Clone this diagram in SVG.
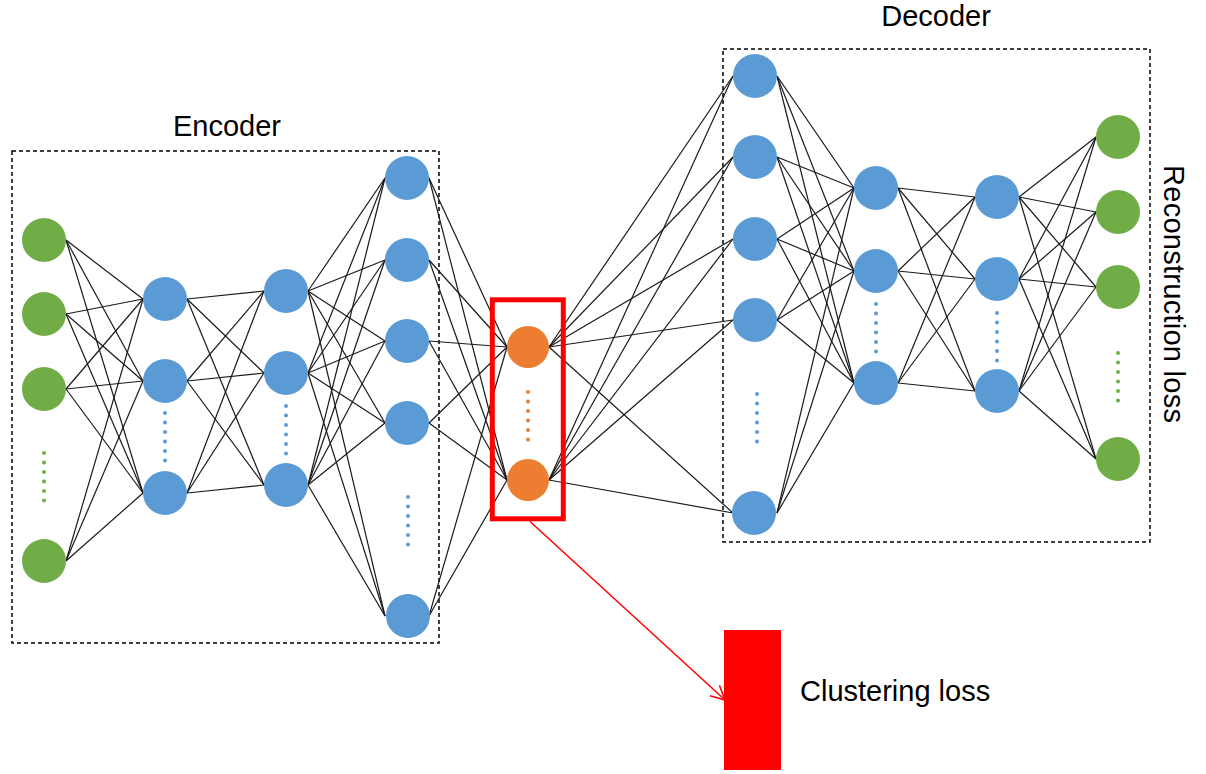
<svg xmlns="http://www.w3.org/2000/svg" width="1206" height="774" viewBox="0 0 1206 774">
<style>
.g{fill:#70AD47}.b{fill:#5B9BD5}.o{fill:#ED7D31}
.frame{fill:none;stroke:#000;stroke-width:1.5;stroke-dasharray:4 3}
.c line{stroke:#1a1a1a;stroke-width:1.2}
.dots{stroke-width:4;stroke-linecap:round;stroke-dasharray:0 9.5;fill:none}
.t{font-family:"Liberation Sans",Arial,sans-serif;font-size:29px;fill:#000}
</style>
<defs>
<marker id="ah" markerUnits="userSpaceOnUse" markerWidth="18" markerHeight="18" refX="15" refY="8" orient="auto">
<path d="M1,1 L15,8 L1,15" fill="none" stroke="#FF0000" stroke-width="1.5"/>
</marker>
</defs>
<rect width="1206" height="774" fill="#fff"/>
<g id="frames">
<rect class="frame" x="12" y="151" width="427" height="492"/>
<rect class="frame" x="723" y="49" width="427" height="493"/>
</g>
<g id="labels">
<text class="t" x="227" y="136" text-anchor="middle">Encoder</text>
<text class="t" x="936" y="26" text-anchor="middle">Decoder</text>
<text class="t" transform="translate(1164,165) rotate(90)" textLength="258" lengthAdjust="spacing">Reconstruction loss</text>
<text class="t" x="800" y="701">Clustering loss</text>
</g>
<g id="connectors" class="c">
<line x1="66" y1="240" x2="143" y2="299"/><line x1="66" y1="240" x2="143" y2="381"/><line x1="66" y1="240" x2="143" y2="493"/>
<line x1="66" y1="314" x2="143" y2="299"/><line x1="66" y1="314" x2="143" y2="381"/><line x1="66" y1="314" x2="143" y2="493"/>
<line x1="66" y1="389" x2="143" y2="299"/><line x1="66" y1="389" x2="143" y2="381"/><line x1="66" y1="389" x2="143" y2="493"/>
<line x1="66" y1="561" x2="143" y2="299"/><line x1="66" y1="561" x2="143" y2="381"/><line x1="66" y1="561" x2="143" y2="493"/>
<line x1="187" y1="299" x2="264" y2="291"/><line x1="187" y1="299" x2="264" y2="373"/><line x1="187" y1="299" x2="264" y2="485"/>
<line x1="187" y1="381" x2="264" y2="291"/><line x1="187" y1="381" x2="264" y2="373"/><line x1="187" y1="381" x2="264" y2="485"/>
<line x1="187" y1="493" x2="264" y2="291"/><line x1="187" y1="493" x2="264" y2="373"/><line x1="187" y1="493" x2="264" y2="485"/>
<line x1="308" y1="291" x2="385" y2="178"/><line x1="308" y1="291" x2="385" y2="260"/><line x1="308" y1="291" x2="385" y2="341"/><line x1="308" y1="291" x2="385" y2="423"/><line x1="308" y1="291" x2="385" y2="616"/>
<line x1="308" y1="373" x2="385" y2="178"/><line x1="308" y1="373" x2="385" y2="260"/><line x1="308" y1="373" x2="385" y2="341"/><line x1="308" y1="373" x2="385" y2="423"/><line x1="308" y1="373" x2="385" y2="616"/>
<line x1="308" y1="485" x2="385" y2="178"/><line x1="308" y1="485" x2="385" y2="260"/><line x1="308" y1="485" x2="385" y2="341"/><line x1="308" y1="485" x2="385" y2="423"/><line x1="308" y1="485" x2="385" y2="616"/>
<line x1="429" y1="178" x2="507" y2="347"/><line x1="429" y1="178" x2="507" y2="480"/>
<line x1="429" y1="260" x2="507" y2="347"/><line x1="429" y1="260" x2="507" y2="480"/>
<line x1="429" y1="341" x2="507" y2="347"/><line x1="429" y1="341" x2="507" y2="480"/>
<line x1="429" y1="423" x2="507" y2="347"/><line x1="429" y1="423" x2="507" y2="480"/>
<line x1="429" y1="616" x2="507" y2="347"/><line x1="429" y1="616" x2="507" y2="480"/>
<line x1="549" y1="347" x2="733" y2="76"/><line x1="549" y1="347" x2="733" y2="157"/><line x1="549" y1="347" x2="733" y2="239"/><line x1="549" y1="347" x2="733" y2="320"/><line x1="549" y1="347" x2="733" y2="513"/>
<line x1="549" y1="480" x2="733" y2="76"/><line x1="549" y1="480" x2="733" y2="157"/><line x1="549" y1="480" x2="733" y2="239"/><line x1="549" y1="480" x2="733" y2="320"/><line x1="549" y1="480" x2="733" y2="513"/>
<line x1="777" y1="76" x2="854" y2="188"/><line x1="777" y1="76" x2="854" y2="271"/><line x1="777" y1="76" x2="854" y2="383"/>
<line x1="777" y1="157" x2="854" y2="188"/><line x1="777" y1="157" x2="854" y2="271"/><line x1="777" y1="157" x2="854" y2="383"/>
<line x1="777" y1="239" x2="854" y2="188"/><line x1="777" y1="239" x2="854" y2="271"/><line x1="777" y1="239" x2="854" y2="383"/>
<line x1="777" y1="320" x2="854" y2="188"/><line x1="777" y1="320" x2="854" y2="271"/><line x1="777" y1="320" x2="854" y2="383"/>
<line x1="777" y1="513" x2="854" y2="188"/><line x1="777" y1="513" x2="854" y2="271"/><line x1="777" y1="513" x2="854" y2="383"/>
<line x1="898" y1="188" x2="975" y2="197"/><line x1="898" y1="188" x2="975" y2="279"/><line x1="898" y1="188" x2="975" y2="391"/>
<line x1="898" y1="271" x2="975" y2="197"/><line x1="898" y1="271" x2="975" y2="279"/><line x1="898" y1="271" x2="975" y2="391"/>
<line x1="898" y1="383" x2="975" y2="197"/><line x1="898" y1="383" x2="975" y2="279"/><line x1="898" y1="383" x2="975" y2="391"/>
<line x1="1019" y1="197" x2="1096" y2="137"/><line x1="1019" y1="197" x2="1096" y2="212"/><line x1="1019" y1="197" x2="1096" y2="287"/><line x1="1019" y1="197" x2="1096" y2="459"/>
<line x1="1019" y1="279" x2="1096" y2="137"/><line x1="1019" y1="279" x2="1096" y2="212"/><line x1="1019" y1="279" x2="1096" y2="287"/><line x1="1019" y1="279" x2="1096" y2="459"/>
<line x1="1019" y1="391" x2="1096" y2="137"/><line x1="1019" y1="391" x2="1096" y2="212"/><line x1="1019" y1="391" x2="1096" y2="287"/><line x1="1019" y1="391" x2="1096" y2="459"/>
</g>
<g id="dots">
<line class="dots" stroke="#70AD47" x1="44" y1="453" x2="44" y2="503"/>
<line class="dots" stroke="#5B9BD5" x1="165" y1="413" x2="165" y2="463"/>
<line class="dots" stroke="#5B9BD5" x1="286" y1="406" x2="286" y2="454"/>
<line class="dots" stroke="#5B9BD5" x1="408" y1="497" x2="408" y2="545"/>
<line class="dots" stroke="#ED7D31" x1="528" y1="392" x2="528" y2="440"/>
<line class="dots" stroke="#5B9BD5" x1="757" y1="394" x2="757" y2="443"/>
<line class="dots" stroke="#5B9BD5" x1="876" y1="304" x2="876" y2="352"/>
<line class="dots" stroke="#5B9BD5" x1="997" y1="313" x2="997" y2="361"/>
<line class="dots" stroke="#70AD47" x1="1118" y1="353" x2="1118" y2="402"/>
</g>
<g id="encoder-input">
<circle id="e1a" class="g" cx="44" cy="240" r="22"/>
<circle id="e1b" class="g" cx="44" cy="314" r="22"/>
<circle id="e1c" class="g" cx="44" cy="389" r="22"/>
<circle id="e1d" class="g" cx="44" cy="561" r="22"/>
</g>
<g id="encoder-h1">
<circle id="e2a" class="b" cx="165" cy="299" r="22"/>
<circle id="e2b" class="b" cx="165" cy="381" r="22"/>
<circle id="e2c" class="b" cx="165" cy="493" r="22"/>
</g>
<g id="encoder-h2">
<circle id="e3a" class="b" cx="286" cy="291" r="22"/>
<circle id="e3b" class="b" cx="286" cy="373" r="22"/>
<circle id="e3c" class="b" cx="286" cy="485" r="22"/>
</g>
<g id="encoder-h3">
<circle id="e4a" class="b" cx="407" cy="178" r="22"/>
<circle id="e4b" class="b" cx="407" cy="260" r="22"/>
<circle id="e4c" class="b" cx="407" cy="341" r="22"/>
<circle id="e4d" class="b" cx="407" cy="423" r="22"/>
<circle id="e4e" class="b" cx="408" cy="616" r="22"/>
</g>
<g id="latent">
<circle id="za" class="o" cx="528" cy="347" r="21"/>
<circle id="zb" class="o" cx="528" cy="480" r="21"/>
<rect id="latent-box" x="492.3" y="299.8" width="71" height="219" fill="none" stroke="#FF0000" stroke-width="5"/>
</g>
<g id="decoder-h1">
<circle id="d1a" class="b" cx="755" cy="76" r="22"/>
<circle id="d1b" class="b" cx="755" cy="157" r="22"/>
<circle id="d1c" class="b" cx="755" cy="239" r="22"/>
<circle id="d1d" class="b" cx="755" cy="320" r="22"/>
<circle id="d1e" class="b" cx="754" cy="513" r="22"/>
</g>
<g id="decoder-h2">
<circle id="d2a" class="b" cx="876" cy="188" r="22"/>
<circle id="d2b" class="b" cx="876" cy="271" r="22"/>
<circle id="d2c" class="b" cx="876" cy="383" r="22"/>
</g>
<g id="decoder-h3">
<circle id="d3a" class="b" cx="997" cy="197" r="22"/>
<circle id="d3b" class="b" cx="997" cy="279" r="22"/>
<circle id="d3c" class="b" cx="997" cy="391" r="22"/>
</g>
<g id="decoder-output">
<circle id="d4a" class="g" cx="1118" cy="137" r="22"/>
<circle id="d4b" class="g" cx="1118" cy="212" r="22"/>
<circle id="d4c" class="g" cx="1118" cy="287" r="22"/>
<circle id="d4d" class="g" cx="1118" cy="459" r="22"/>
</g>
<g id="clustering">
<line x1="530" y1="521.5" x2="725" y2="700" stroke="#FF0000" stroke-width="1.5" marker-end="url(#ah)"/>
<rect id="clustering-loss" x="724" y="630" width="57" height="140" fill="#FF0000"/>
</g>
</svg>
